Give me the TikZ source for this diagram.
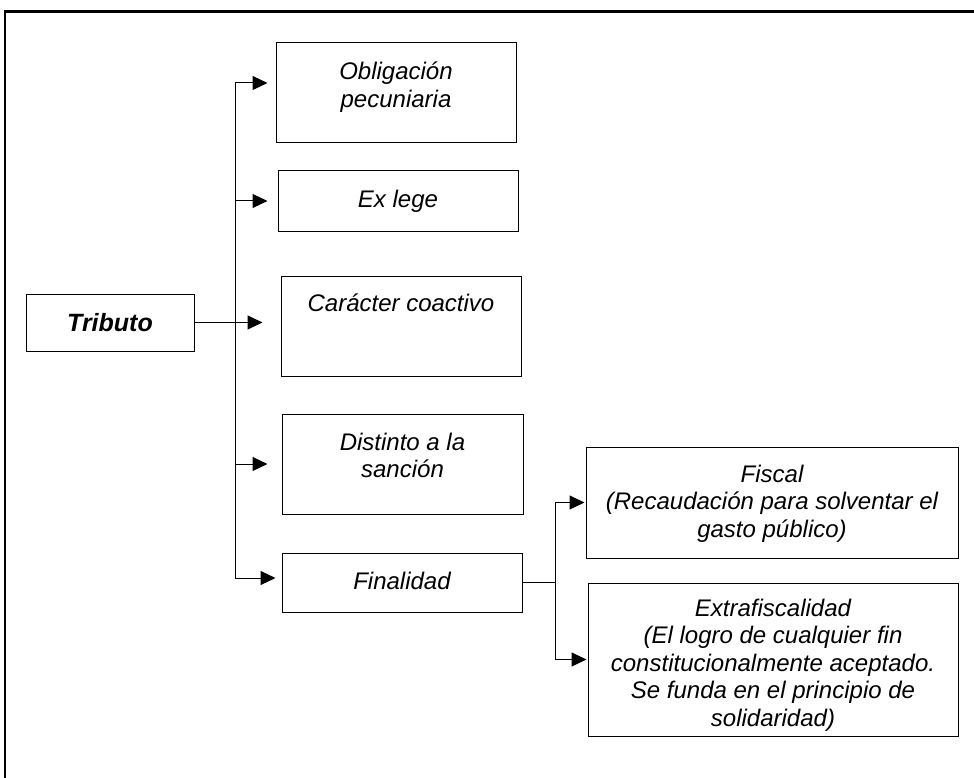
\documentclass[tikz,border=0pt]{standalone}
\usepackage{fontspec}
\setmainfont{Liberation Sans}
\usetikzlibrary{positioning,arrows.meta}

\tikzset{
	caja/.style={draw, line width=1pt, inner sep=0pt},
	texto/.style={font=\fontsize{24}{27.5}\selectfont\itshape, align=center, inner sep=0pt},
}

\begin{document}
\begin{tikzpicture}[x=1pt, y=-1pt, line width=1pt, >={Triangle[length=15pt,width=14pt]}]
	\useasboundingbox (0,0) rectangle (974,778);
	\draw [line width=2.5pt] (5,800) -- (5,11.5) -- (1000,11.5);

	\node [caja, minimum width=168pt, minimum height=57pt, font=\fontsize{25}{30}\selectfont\bfseries\itshape] (tributo) at (110,322.5) {Tributo};

	\node [caja, minimum width=240pt, minimum height=100pt] (oblig) at (396,93) {};
	\node [caja, minimum width=240pt, minimum height=60pt] (exlege) at (398,201) {};
	\node [caja, minimum width=240pt, minimum height=100pt] (caracter) at (401,326) {};
	\node [caja, minimum width=241pt, minimum height=100pt] (distinto) at (402.5,464) {};
	\node [caja, minimum width=240pt, minimum height=59pt] (finalidad) at (402,582.5) {};
	\node [caja, minimum width=372pt, minimum height=111pt] (fiscal) at (772,502.5) {};
	\node [caja, minimum width=370pt, minimum height=153pt] (extra) at (773,659.5) {};

	\node [texto, below=19pt of oblig.north] (oblig-t) {Obligación\\pecuniaria};
	\node [texto, below=19pt of exlege.north] (exlege-t) {Ex lege};
	\node [texto, below=18pt of caracter.north] (caracter-t) {Carácter coactivo};
	\node [texto, below=19pt of distinto.north] (distinto-t) {Distinto a la\\sanción};
	\node [texto, below=19pt of finalidad.north] (finalidad-t) {Finalidad};
	\node [texto, below=18pt of fiscal.north] (fiscal-t) {Fiscal\\(Recaudación para solventar el\\gasto público)};
	\node [texto, below=16pt of extra.north] (extra-t) {Extrafiscalidad\\(El logro de cualquier fin\\constitucionalmente aceptado.\\Se funda en el principio de\\solidaridad)};

	% tronco principal
	\coordinate (t1) at (235,83);
	\coordinate (t2) at (235,578);
	\draw (t1) -- (t2);
	\draw [->] (t1) -- ([xshift=-8pt]oblig.west |- t1);
	\draw [->] (t1 |- exlege.west) -- ([xshift=-10pt]exlege.west);
	\draw [->] (tributo.east) -- ([xshift=-18pt]caracter.west |- tributo.east);
	\draw [->] (t1 |- distinto.west) -- ([xshift=-14pt]distinto.west);
	\draw [->] (t2) -- ([xshift=-6pt]finalidad.west |- t2);

	% ramas de la finalidad
	\coordinate (b1) at (555,502.5);
	\coordinate (b2) at (555,659.5);
	\draw (finalidad.east) -- (finalidad.east -| b1);
	\draw (b1) -- (b2);
	\draw [->] (b1) -- ([xshift=-1pt]fiscal.west);
	\draw [->] (b2) -- ([xshift=-1pt]extra.west);
\end{tikzpicture}
\end{document}
